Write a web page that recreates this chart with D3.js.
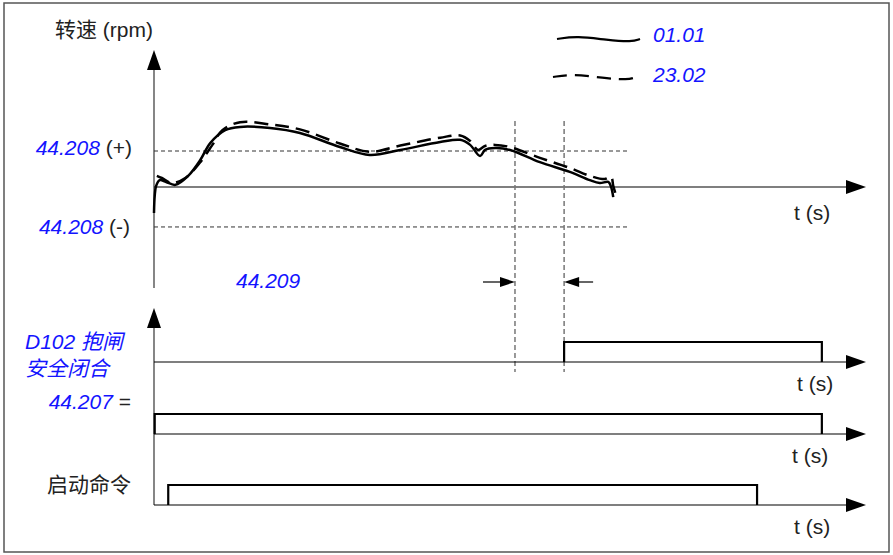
<!DOCTYPE html>
<html>
<head>
<meta charset="utf-8">
<script src="https://cdn.jsdelivr.net/npm/d3@7"></script>
<style>
  body { margin: 0; background: #fff; }
  text { font-family: "Liberation Sans", Arial, "Noto Sans CJK SC", sans-serif; font-size: 21px; fill: #222; }
  .blue { fill: #1414ff; font-style: italic; }
  .cjk { font-family: "Noto Sans CJK SC", sans-serif; }
</style>
</head>
<body>
<svg class="chart"></svg>
<script>
var width = 893;
var height = 555;

// speed traces: [time (s), speed (rpm)]
var speed0101 = [[0, -72], [0.01, -25], [0.03, 3], [0.08, 19], [0.17, 14], [0.3, 6], [0.48, 31], [0.65, 75],
    [0.79, 122], [1.0, 158], [1.21, 167], [1.63, 164], [2.05, 150], [2.61, 111], [3.03, 89], [3.46, 103],
    [4.02, 125], [4.3, 131], [4.44, 117], [4.58, 86], [4.65, 103], [4.79, 108], [5.0, 103], [5.42, 69],
    [5.84, 42], [6.12, 19], [6.26, 11], [6.38, 14], [6.42, 0], [6.45, -28]];
var speed2302 = [[0.04, 31], [0.11, 25], [0.25, 11], [0.44, 25], [0.65, 69], [0.82, 117], [0.96, 158],
    [1.21, 180], [1.63, 174], [2.05, 160], [2.61, 121], [3.03, 98], [3.46, 115], [4.02, 137], [4.3, 143],
    [4.44, 128], [4.55, 103], [4.65, 114], [4.79, 117], [5.0, 111], [5.42, 81], [5.84, 53], [6.12, 31],
    [6.33, 22], [6.42, 28], [6.45, 3], [6.48, -17]];

var limitPos = 100;    // 44.208 (+)
var limitNeg = -111;   // 44.208 (-)
var markers = [5.07, 5.76]; // 44.209 window

// digital signals: [start, end] in s
var brakeClosed = [5.76, 9.38];
var param44207 = [0.01, 9.38];
var startCmd = [0.2, 8.47];

var legendItems = ["01.01", "23.02"];

var x = d3.scaleLinear().domain([0, 10]).range([154, 866]);
var y = d3.scaleLinear().domain([0, 100]).range([187, 151]);

var chart = d3.select(".chart")
    .attr("width", width)
    .attr("height", height);

chart.append("rect")
    .attr("x", 4).attr("y", 3)
    .attr("width", 885).attr("height", 549)
    .attr("fill", "none")
    .attr("stroke", "#555")
    .attr("stroke-width", 1.5);

function arrowUp(cx, tipY) {
    chart.append("path")
        .attr("d", "M" + cx + "," + tipY + "L" + (cx - 7) + "," + (tipY + 20) + "L" + (cx + 7) + "," + (tipY + 20) + "Z")
        .attr("fill", "#000");
}
function arrowRight(tipX, cy) {
    chart.append("path")
        .attr("d", "M" + tipX + "," + cy + "L" + (tipX - 20) + "," + (cy - 7) + "L" + (tipX - 20) + "," + (cy + 7) + "Z")
        .attr("fill", "#000");
}
function hline(x1, x2, yy) {
    chart.append("line")
        .attr("x1", x1).attr("x2", x2).attr("y1", yy).attr("y2", yy)
        .attr("stroke", "#000").attr("stroke-width", 1.2);
}

// ---- speed panel
chart.append("line")
    .attr("x1", x(0)).attr("x2", x(0)).attr("y1", 60).attr("y2", 288)
    .attr("stroke", "#444").attr("stroke-width", 1.3);
arrowUp(x(0), 50);
hline(x(0), 850, y(0));
arrowRight(866, y(0));

chart.selectAll("line.limit")
    .data([limitPos, limitNeg])
    .enter().append("line")
    .attr("class", "limit")
    .attr("x1", x(0)).attr("x2", 630)
    .attr("y1", function(d) { return y(d); })
    .attr("y2", function(d) { return y(d); })
    .attr("stroke", "#333").attr("stroke-width", 1)
    .attr("stroke-dasharray", "4,3");

chart.selectAll("line.marker")
    .data(markers)
    .enter().append("line")
    .attr("class", "marker")
    .attr("x1", function(d) { return x(d); })
    .attr("x2", function(d) { return x(d); })
    .attr("y1", 121).attr("y2", 372)
    .attr("stroke", "#777").attr("stroke-width", 1.5)
    .attr("stroke-dasharray", "5,3");

// dimension arrows for 44.209
chart.append("line").attr("x1", x(markers[0]) - 32).attr("x2", x(markers[0]) - 10)
    .attr("y1", 282).attr("y2", 282).attr("stroke", "#000").attr("stroke-width", 1.2);
chart.append("path")
    .attr("d", "M" + x(markers[0]) + ",282L" + (x(markers[0]) - 15) + ",277L" + (x(markers[0]) - 15) + ",287Z")
    .attr("fill", "#000");
chart.append("line").attr("x1", x(markers[1]) + 10).attr("x2", x(markers[1]) + 29)
    .attr("y1", 282).attr("y2", 282).attr("stroke", "#000").attr("stroke-width", 1.2);
chart.append("path")
    .attr("d", "M" + x(markers[1]) + ",282L" + (x(markers[1]) + 15) + ",277L" + (x(markers[1]) + 15) + ",287Z")
    .attr("fill", "#000");

var line = d3.line()
    .x(function(d) { return x(d[0]); })
    .y(function(d) { return y(d[1]); })
    .curve(d3.curveCatmullRom.alpha(0.5));

chart.append("path")
    .datum(speed2302)
    .attr("d", line)
    .attr("fill", "none")
    .attr("stroke", "#000")
    .attr("stroke-width", 2.5)
    .attr("stroke-dasharray", "14,7");

chart.append("path")
    .datum(speed0101)
    .attr("d", line)
    .attr("fill", "none")
    .attr("stroke", "#000")
    .attr("stroke-width", 2.5);

// legend
var legendLine = d3.line().curve(d3.curveBasis);
legendItems.forEach(function(name, i) {
    var ly = 39 + i * 38;
    var x0 = 557 - i * 4;
    chart.append("path")
        .attr("d", legendLine([[x0, ly], [x0 + 20, ly - 3], [x0 + 50, ly + 1], [x0 + 75, ly + 3], [x0 + 83, ly]]))
        .attr("fill", "none")
        .attr("stroke", "#000")
        .attr("stroke-width", 2.2)
        .attr("stroke-dasharray", i === 0 ? null : "14,8");
    chart.append("text")
        .attr("class", "blue")
        .attr("x", 653).attr("y", ly + 3 + i * 2)
        .text(name);
});

chart.append("text").attr("x", 55).attr("y", 37)
    .html('<tspan class="cjk">转速</tspan> (rpm)');

var lp = chart.append("text").attr("x", 132).attr("y", y(limitPos) + 4).attr("text-anchor", "end");
lp.append("tspan").attr("class", "blue").text("44.208");
lp.append("tspan").text(" (+)");
var ln = chart.append("text").attr("x", 130).attr("y", y(limitNeg) + 7).attr("text-anchor", "end");
ln.append("tspan").attr("class", "blue").text("44.208");
ln.append("tspan").text(" (-)");

chart.append("text").attr("class", "blue").attr("x", 236).attr("y", 288).text("44.209");

// ---- digital panels
var panels = [
    { base: 362, sig: brakeClosed, tx: 797, ty: 391 },
    { base: 434, sig: param44207, tx: 792, ty: 463 },
    { base: 505, sig: startCmd, tx: 794, ty: 534 }
];

chart.append("line")
    .attr("x1", x(0)).attr("x2", x(0)).attr("y1", 318).attr("y2", 505)
    .attr("stroke", "#444").attr("stroke-width", 1.3);
arrowUp(x(0), 308);

panels.forEach(function(p) {
    hline(x(0), 850, p.base);
    arrowRight(866, p.base);
    chart.append("path")
        .attr("d", "M" + x(p.sig[0]) + "," + p.base + "V" + (p.base - 20) + "H" + x(p.sig[1]) + "V" + p.base)
        .attr("fill", "none")
        .attr("stroke", "#000")
        .attr("stroke-width", 2.2);
    chart.append("text").attr("x", p.tx).attr("y", p.ty).text("t (s)");
});
chart.append("text").attr("x", 794).attr("y", 220).text("t (s)");

chart.append("text").attr("class", "blue").attr("x", 25).attr("y", 349)
    .html('D102 <tspan class="cjk">抱闸</tspan>');
chart.append("text").attr("class", "blue cjk").attr("x", 25).attr("y", 376).text("安全闭合");
var p7 = chart.append("text").attr("x", 131).attr("y", 409).attr("text-anchor", "end");
p7.append("tspan").attr("class", "blue").text("44.207");
p7.append("tspan").text(" =");
chart.append("text").attr("class", "cjk").attr("x", 47).attr("y", 492).text("启动命令");
</script>
</body>
</html>
